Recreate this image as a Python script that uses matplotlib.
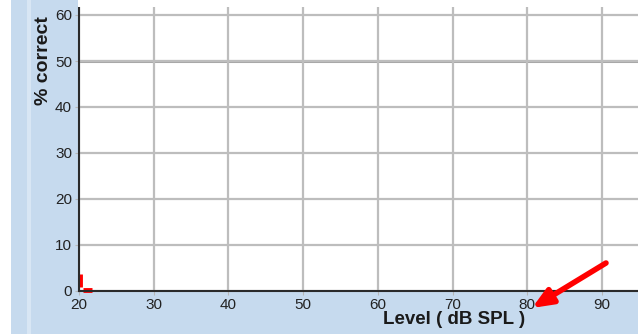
import matplotlib.pyplot as plt
from matplotlib.patches import Rectangle, FancyArrowPatch

# Daten
x_ticks = [20, 30, 40, 50, 60, 70, 80, 90]
y_ticks = [0, 10, 20, 30, 40, 50, 60]
x_label = "Level ( dB SPL )"
y_label = "% correct"

# roter Kurvenanfang (nur zwei kurze Stuecke sichtbar)
red_level_a = [20.1, 20.1]
red_pct_a = [3.8, 0.9]
red_level_b = [20.6, 21.7]
red_pct_b = [0.25, 0.25]

W, H = 638, 334
blue = "#C6DAEE"

fig = plt.figure(figsize=(W / 100, H / 100), dpi=100, facecolor=blue)

# Hintergrundstreifen
fig.patches.append(Rectangle((0, 0), 11 / W, 1, transform=fig.transFigure,
                             facecolor="white", edgecolor="none", zorder=0))
fig.patches.append(Rectangle((27 / W, 0), 4 / W, 1, transform=fig.transFigure,
                             facecolor="#D8E6F4", edgecolor="none", zorder=0))
fig.patches.append(Rectangle((78 / W, 1 - 7 / H), 1, 7 / H, transform=fig.transFigure,
                             facecolor="white", edgecolor="none", zorder=0))

ax = fig.add_axes([79 / W, 43 / H, (W - 79) / W, (291 - 7) / H])
ax.set_facecolor("white")
ax.set_xlim(20, 20 + (W - 79) / 74.7 * 10)
ax.set_ylim(0, (291 - 7) / 46 * 10)

ax.set_xticks(x_ticks)
ax.set_yticks(y_ticks)
ax.tick_params(axis="both", labelsize=11, labelcolor="#222222", length=3,
               color="#B8B8B8", pad=2)
for lab in ax.get_xticklabels() + ax.get_yticklabels():
    lab.set_fontfamily("Liberation Sans")

ax.grid(True, color="#BDBDBD", linewidth=1.6, zorder=1)
ax.axhline(50, color="#A6A6A6", linewidth=2.2, zorder=1)

for side in ["top", "right"]:
    ax.spines[side].set_visible(False)
for side in ["left", "bottom"]:
    ax.spines[side].set_color("#2A2A2A")
    ax.spines[side].set_linewidth(1.5)
    ax.spines[side].set_zorder(5)

ax.plot(red_level_a, red_pct_a, color="red", linewidth=3.5, solid_capstyle="butt",
        zorder=4, clip_on=False)
ax.plot(red_level_b, red_pct_b, color="red", linewidth=3.5, solid_capstyle="butt",
        zorder=4, clip_on=False)

# Achsentitel
fig.text(454 / W, 1 - 320 / H, x_label, ha="center", va="center",
         fontsize=13.5, fontweight="bold", color="#1A1A1A", family="Liberation Sans")
fig.text(43 / W, 1 - 61 / H, y_label, ha="center", va="center", rotation=90,
         fontsize=14, fontweight="bold", color="#1A1A1A", family="Liberation Sans")

# roter Pfeil
fig.patches.append(FancyArrowPatch(
    (606 / W, 1 - 263 / H), (532 / W, 1 - 308 / H), transform=fig.transFigure,
    arrowstyle="-|>,head_length=12,head_width=5", mutation_scale=1,
    shrinkA=0, shrinkB=0, color="red", linewidth=4, zorder=10))

fig.savefig("out.png", dpi=100, facecolor=fig.get_facecolor())
